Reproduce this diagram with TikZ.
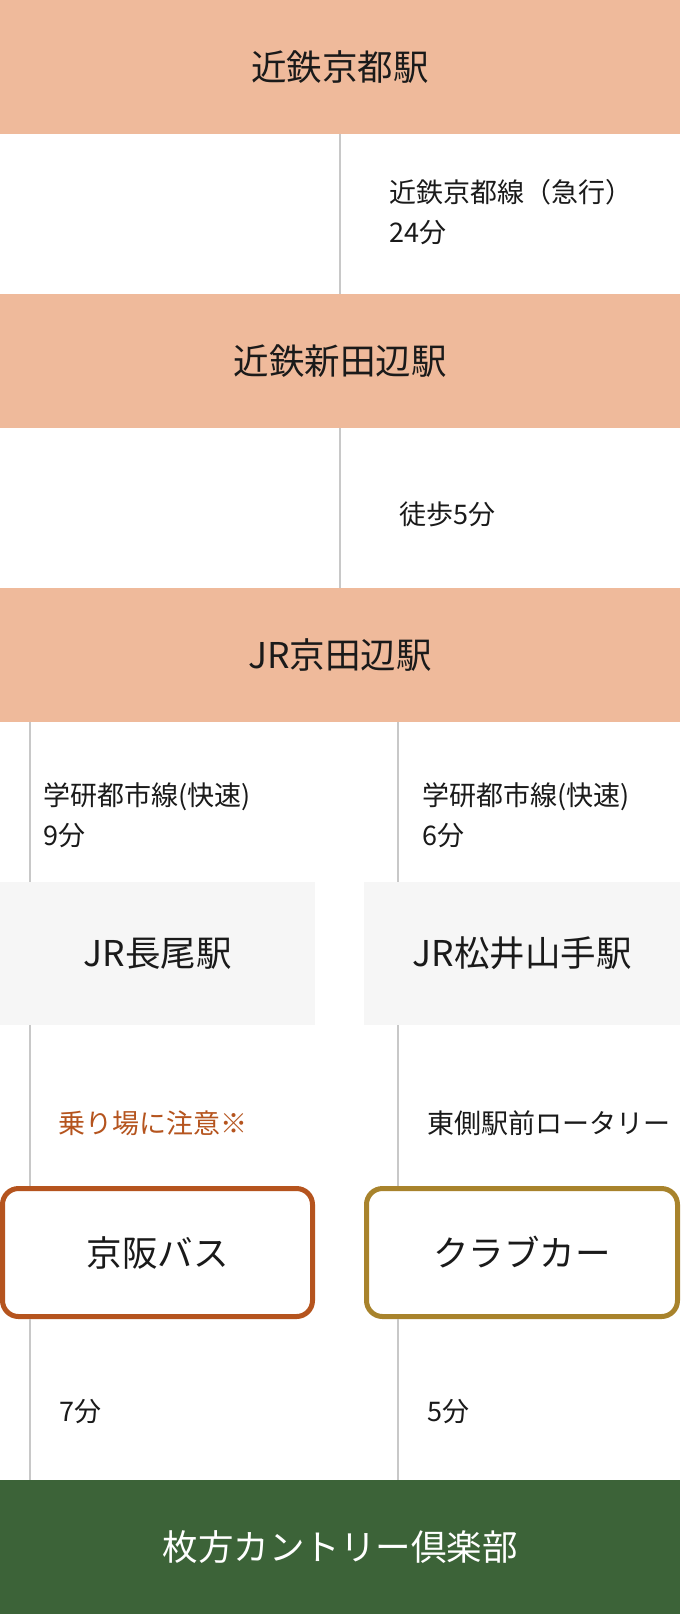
\documentclass[tikz,border=0pt]{standalone}
\usepackage{fontspec}
\newfontfamily\jp{Noto Sans CJK JP}
\definecolor{salmon}{HTML}{EFBA9B}
\definecolor{pale}{HTML}{F6F6F6}
\definecolor{rule}{HTML}{C8C8C8}
\definecolor{busorange}{HTML}{B5541E}
\definecolor{cargold}{HTML}{A8832C}
\definecolor{clubgreen}{HTML}{3C6338}
\definecolor{ink}{HTML}{1A1A1A}
\begin{document}
\begin{tikzpicture}[x=1pt,y=-1pt,
  band/.style={rectangle,inner sep=0pt,minimum width=680pt,minimum height=134pt,fill=salmon,text=ink,font=\jp\fontsize{35.5}{40}\selectfont},
  greybox/.style={rectangle,inner sep=0pt,minimum height=143pt,fill=pale,text=ink,font=\jp\fontsize{35.5}{40}\selectfont},
  roundbox/.style={rectangle,rounded corners=16pt,inner sep=0pt,line width=5pt,fill=white,minimum height=128pt,text=ink,font=\jp\fontsize{35.5}{40}\selectfont},
  lbl/.style={anchor=west,inner sep=0pt,align=left,text=ink,font=\jp\fontsize{27}{40}\selectfont},
  link/.style={draw=rule,line width=1.5pt}]
\useasboundingbox (0,0) rectangle (680,1614);
\fill[white] (0,0) rectangle (680,1614);
% stations
\node[band] (b1) at (340,67) {近鉄京都駅};
\node[band] (b2) at (340,361) {近鉄新田辺駅};
\node[band] (b3) at (340,655) {JR京田辺駅};
\node[greybox,minimum width=315pt] (g1) at (157.5,953.5) {JR長尾駅};
\node[greybox,minimum width=316pt] (g2) at (522,953.5) {JR松井山手駅};
\node[roundbox,draw=busorange,minimum width=310pt] (r1) at (157.5,1252.5) {京阪バス};
\node[roundbox,draw=cargold,minimum width=311pt] (r2) at (522,1252.5) {クラブカー};
\node[band,fill=clubgreen,text=white] (b4) at (340,1547) {枚方カントリー倶楽部};
% line positions
\coordinate (xl) at (30,0);
\coordinate (xr) at (398,0);
% connectors
\draw[link] (b1.south) -- (b2.north);
\draw[link] (b2.south) -- (b3.north);
\draw[link] (b3.south -| xl) -- (g1.north -| xl);
\draw[link] (b3.south -| xr) -- (g2.north -| xr);
\draw[link] (g1.south -| xl) -- (r1.north -| xl);
\draw[link] (g2.south -| xr) -- (r2.north -| xr);
\draw[link] (r1.south -| xl) -- (b4.north -| xl);
\draw[link] (r2.south -| xr) -- (b4.north -| xr);
% labels
\node[lbl] (t1) at (389,212) {近鉄京都線（急行）\\24分};
\node[lbl] (t2) at (399,514) {徒歩5分};
\node[lbl] (t3) at (43,815) {学研都市線(快速)\\9分};
\node[lbl] (t4) at (422,815) {学研都市線(快速)\\6分};
\node[lbl,text=busorange] (t5) at (58,1123) {乗り場に注意※};
\node[lbl] (t6) at (427,1123) {東側駅前ロータリー};
\node[lbl] (t7) at (59,1412) {7分};
\node[lbl] (t8) at (427,1412) {5分};
\end{tikzpicture}
\end{document}
